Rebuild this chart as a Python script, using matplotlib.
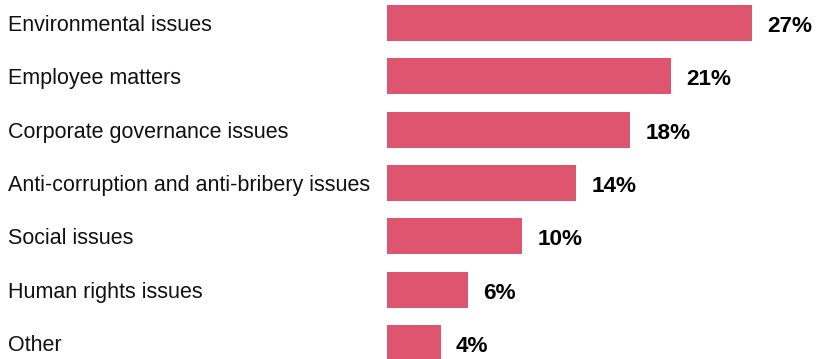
import matplotlib
matplotlib.use("Agg")
from matplotlib import pyplot as plt
from matplotlib import transforms

# Share of responses per topic (%)
topics = [
    "Environmental issues",
    "Employee matters",
    "Corporate governance issues",
    "Anti-corruption and anti-bribery issues",
    "Social issues",
    "Human rights issues",
    "Other",
]
shares = [27, 21, 18, 14, 10, 6, 4]

bar_color = "#DE5570"
plt.rcParams["font.family"] = ["Liberation Sans", "DejaVu Sans"]

fig = plt.figure(figsize=(8.18, 3.59), dpi=100)
# bars start at 387 px and 27% reaches 752 px
ax = fig.add_axes([387 / 818, 0, (752 - 387) / 818, 1])

y = list(range(len(topics)))
ax.barh(y, shares, height=0.675, color=bar_color)
ax.set_xlim(0, 27)
ax.set_ylim(6.3, -0.431)
ax.axis("off")

# category names sit at the left edge of the figure, baseline a bit below bar centre
label_tf = transforms.offset_copy(
    transforms.blended_transform_factory(fig.transFigure, ax.transData),
    fig=fig, x=0, y=-8, units="dots")
for yi, name in zip(y, topics):
    ax.text(8 / 818, yi, name, transform=label_tf, ha="left", va="baseline",
            fontsize=15.5, color="#111111")

# value labels just past the end of each bar
offset = transforms.offset_copy(ax.transData, fig=fig, x=15, y=-9, units="dots")
for yi, v in zip(y, shares):
    ax.text(v, yi, f"{v}%", transform=offset, ha="left", va="baseline",
            fontsize=16.2, fontweight="bold", color="black", clip_on=False)

fig.savefig("out.png", dpi=100)
